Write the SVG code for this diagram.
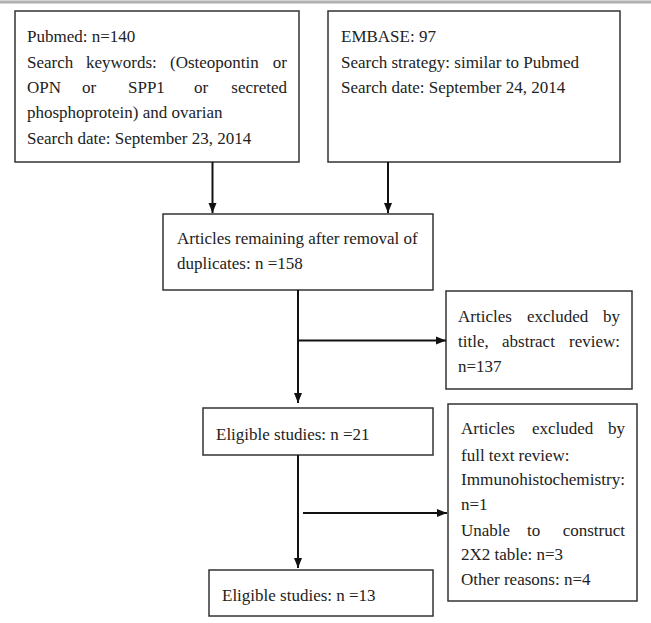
<svg xmlns="http://www.w3.org/2000/svg" width="651" height="623" viewBox="0 0 651 623">
<style>
.box{fill:#fff;stroke:#333;stroke-width:1.5}
text{font-family:"Liberation Serif","Times New Roman","DejaVu Serif",serif;font-size:17px;fill:#222}
.ln{stroke:#111;stroke-width:2;fill:none}
</style>
<defs>
<marker id="ah" markerWidth="10" markerHeight="10" refX="10" refY="5" orient="auto" markerUnits="userSpaceOnUse">
<path d="M0,1 L10,5 L0,9 Z" fill="#111"/>
</marker>
</defs>
<rect x="0" y="0" width="651" height="623" fill="#fff"/>
<rect x="0" y="0" width="651" height="4" fill="#d4d4d4"/>
<rect x="0" y="1" width="651" height="2" fill="#b0b0b0"/>

<g id="pubmed">
<rect class="box" x="15" y="11" width="284" height="151"/>
<text x="27" y="42">Pubmed: n=140</text>
<text y="68"><tspan x="27">Search</tspan><tspan x="86">keywords:</tspan><tspan x="170">(Osteopontin</tspan><tspan x="287" text-anchor="end">or</tspan></text>
<text y="93"><tspan x="27">OPN</tspan><tspan x="82">or</tspan><tspan x="128">SPP1</tspan><tspan x="194">or</tspan><tspan x="287" text-anchor="end">secreted</tspan></text>
<text x="27" y="118">phosphoprotein) and ovarian</text>
<text x="27" y="144">Search date: September 23, 2014</text>
</g>

<g id="embase">
<rect class="box" x="328" y="11" width="292" height="151"/>
<text x="341" y="42">EMBASE: 97</text>
<text x="341" y="68">Search strategy: similar to Pubmed</text>
<text x="341" y="93">Search date: September 24, 2014</text>
</g>

<g id="dedup">
<rect class="box" x="163" y="214" width="270" height="76"/>
<text x="177" y="244">Articles remaining after removal of</text>
<text x="177" y="269">duplicates: n =158</text>
</g>

<g id="excluded1">
<rect class="box" x="446" y="291" width="186" height="98"/>
<text y="322"><tspan x="458">Articles</tspan><tspan x="527">excluded</tspan><tspan x="620" text-anchor="end">by</tspan></text>
<text y="347"><tspan x="458">title,</tspan><tspan x="502">abstract</tspan><tspan x="620" text-anchor="end">review:</tspan></text>
<text x="458" y="372">n=137</text>
</g>

<g id="eligible1">
<rect class="box" x="203" y="408" width="230" height="47"/>
<text x="216" y="440">Eligible studies: n =21</text>
</g>

<g id="excluded2">
<rect class="box" x="448" y="404" width="189" height="197"/>
<text y="434"><tspan x="461">Articles</tspan><tspan x="532">excluded</tspan><tspan x="625" text-anchor="end">by</tspan></text>
<text x="461" y="461">full text review:</text>
<text x="461" y="485" textLength="164" lengthAdjust="spacingAndGlyphs">Immunohistochemistry:</text>
<text x="461" y="510">n=1</text>
<text y="536"><tspan x="461">Unable</tspan><tspan x="527">to</tspan><tspan x="625" text-anchor="end">construct</tspan></text>
<text x="461" y="560">2X2 table: n=3</text>
<text x="461" y="585">Other reasons: n=4</text>
</g>

<g id="eligible2">
<rect class="box" x="209" y="570" width="224" height="46"/>
<text x="222" y="601">Eligible studies: n =13</text>
</g>

<g id="connectors">
<line class="ln" x1="212.5" y1="162" x2="212.5" y2="213" marker-end="url(#ah)"/>
<line class="ln" x1="388" y1="162" x2="388" y2="213" marker-end="url(#ah)"/>
<line class="ln" x1="298" y1="290" x2="298" y2="403" marker-end="url(#ah)"/>
<line class="ln" x1="298" y1="340.5" x2="446" y2="340.5" marker-end="url(#ah)"/>
<line class="ln" x1="298" y1="455" x2="298" y2="568" marker-end="url(#ah)"/>
<line class="ln" x1="303" y1="513" x2="447" y2="513" marker-end="url(#ah)"/>
</g>
</svg>
